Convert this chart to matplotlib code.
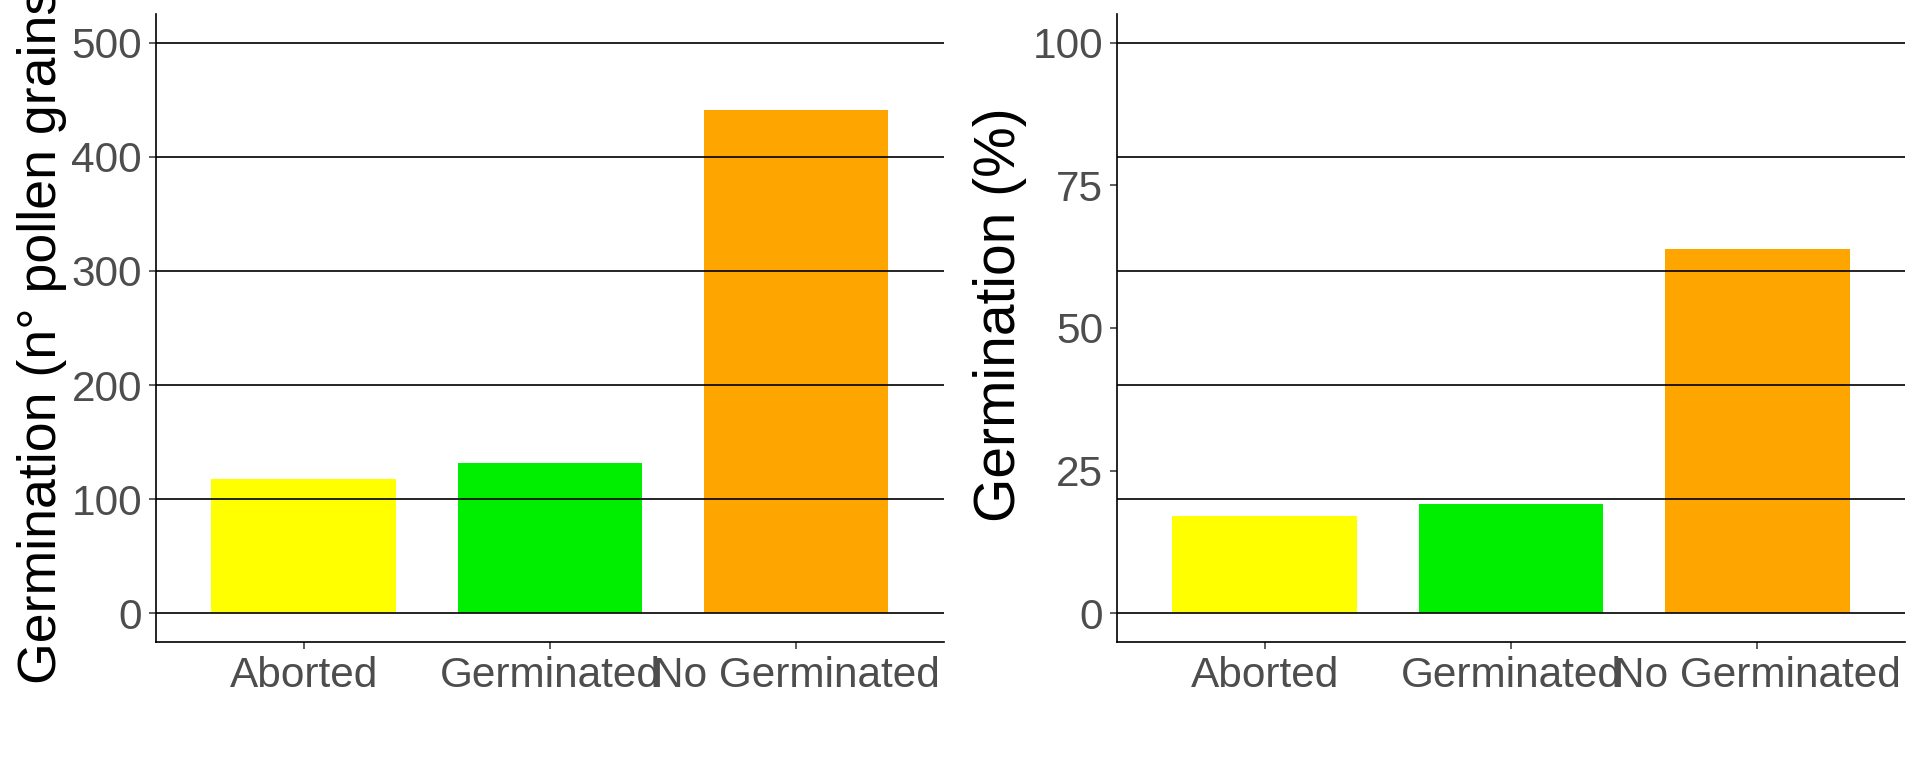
import matplotlib
matplotlib.use("Agg")
import matplotlib.pyplot as plt

plt.rcParams["font.family"] = ["Liberation Sans", "DejaVu Sans"]

categories = ["Aborted", "Germinated", "No Germinated"]
counts = [118, 132, 441]
percent = [17.1, 19.1, 63.8]
bar_colors = ["#FFFF00", "#00EE00", "#FFA500"]

count_ticks = [0, 100, 200, 300, 400, 500]
count_lines = [0, 100, 200, 300, 400, 500]
percent_ticks = [0, 25, 50, 75, 100]
percent_lines = [0, 20, 40, 60, 80, 100]


def draw_panel(ax, values, ticks, lines, ylim, ylabel, label_size, label_xy):
    x = list(range(1, len(categories) + 1))
    ax.bar(x, values, width=0.75, color=bar_colors, zorder=1)
    for y in lines:
        ax.axhline(y, color="black", linewidth=1.2, zorder=2)

    ax.set_xlim(0.4, 3.6)
    ax.set_ylim(*ylim)
    ax.set_xticks(x)
    ax.set_xticklabels(categories)
    ax.set_yticks(ticks)

    for side in ["top", "right"]:
        ax.spines[side].set_visible(False)
    for side in ["left", "bottom"]:
        ax.spines[side].set_linewidth(1.2)
        ax.spines[side].set_color("black")

    ax.tick_params(axis="both", labelsize=30.5, labelcolor="#4D4D4D",
                   color="#333333", length=5, width=1.1, pad=5)
    ax.set_ylabel(ylabel, fontsize=label_size, color="black")
    ax.yaxis.set_label_coords(*label_xy)


fig = plt.figure(figsize=(19.2, 7.68), dpi=100)
ax1 = fig.add_axes([0.0812, 0.1645, 0.4104, 0.8169])
ax2 = fig.add_axes([0.5818, 0.1645, 0.4104, 0.8169])

draw_panel(ax1, counts, count_ticks, count_lines, (-25, 525),
           "Germination (n° pollen grains)", 38.6, (-0.113, 0.502))
draw_panel(ax2, percent, percent_ticks, percent_lines, (-5, 105),
           "Germination (%)", 41, (-0.114, 0.521))

fig.savefig("out.png", dpi=100)
